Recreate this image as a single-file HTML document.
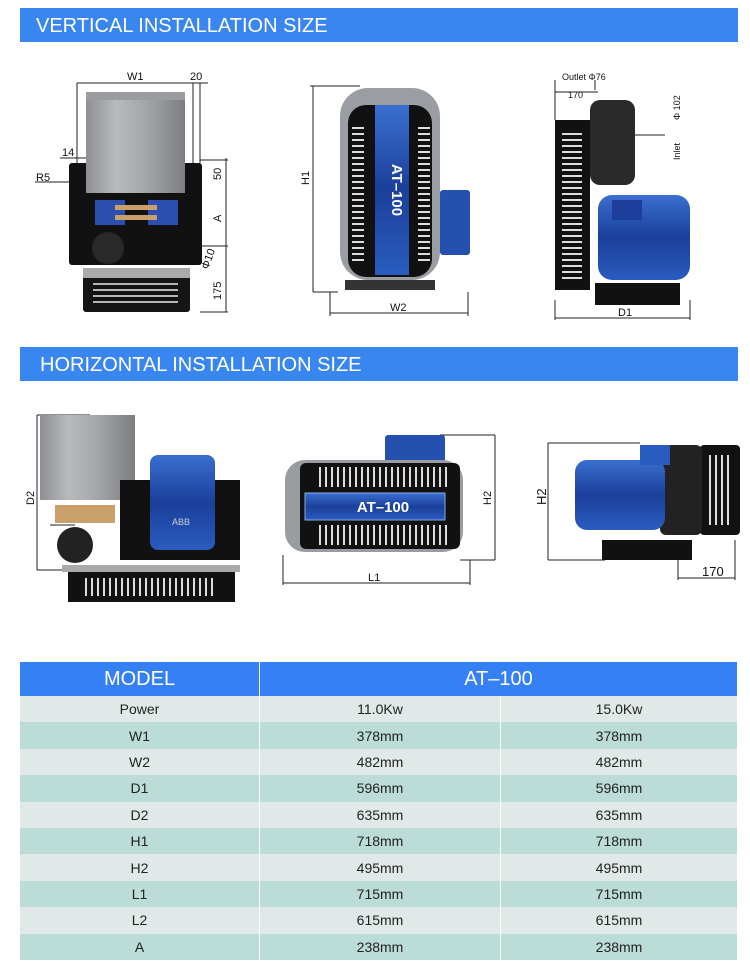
<!DOCTYPE html>
<html><head><meta charset="utf-8"><style>
body{margin:0;width:750px;height:974px;background:#fff;overflow:hidden;font-family:"Liberation Sans",sans-serif}
svg{position:absolute;left:0;top:0}
table{position:absolute;left:20px;top:662px;width:718px;border-collapse:collapse;font-family:"Liberation Sans",sans-serif}
td{text-align:center;font-size:14px;color:#222;height:26.4px;padding:0;border-right:1px solid #fff}
tr.h td{background:#3680f5;color:#fff;font-size:20px;height:34px}
tr.a td{background:#e1e8e8}
tr.b td{background:#bcdcd8}
</style></head><body>
<svg width="750" height="974" viewBox="0 0 750 974">
<defs>
<linearGradient id="cyl" x1="0" x2="1"><stop offset="0" stop-color="#8d8f93"/><stop offset=".3" stop-color="#b8babd"/><stop offset=".6" stop-color="#a4a6aa"/><stop offset="1" stop-color="#7c7e82"/></linearGradient>
<linearGradient id="blu" x1="0" x2="0" y1="0" y2="1"><stop offset="0" stop-color="#3a6fd0"/><stop offset=".5" stop-color="#1b3f9a"/><stop offset="1" stop-color="#2a5cc0"/></linearGradient>
<pattern id="vent" width="4" height="6" patternUnits="userSpaceOnUse"><rect width="4" height="6" fill="#111"/><rect x="0" y="1" width="4" height="2" fill="#ddd"/></pattern>
<pattern id="ventv" width="6" height="4" patternUnits="userSpaceOnUse"><rect width="6" height="4" fill="#111"/><rect x="1" y="0" width="2" height="4" fill="#ddd"/></pattern>
</defs>
<rect x="20" y="8" width="718" height="34" fill="#3a86f0"/>
<text x="36" y="32" fill="#fff" font-size="20">VERTICAL INSTALLATION SIZE</text>
<rect x="20" y="347" width="718" height="34" fill="#3a86f0"/>
<text x="40" y="371" fill="#fff" font-size="20">HORIZONTAL INSTALLATION SIZE</text>
<g stroke="#222" stroke-width="1" fill="none">
<!-- drawing 1 dims -->
<path d="M77 83H208M77 83V163M193 83V163M200 83V163M60 158H86M35 182H70M200 160H228M200 246H228M200 312H228M226 158V312"/>
<!-- drawing 2 -->
<path d="M310 86H360M313 86V292M313 292H338M330 292V316M468 292V316M330 313H468"/>
<!-- drawing 3 -->
<path d="M555 80V120M595 80V90M555 92H598M630 135H665M630 135V160M555 300V320M690 300V320M555 318H690"/>
<!-- drawing 4 -->
<path d="M37 415H90M37 415V570M37 570H70M50 525H75"/>
<!-- drawing 5 -->
<path d="M440 435H495M495 435V560M460 560H495M283 555V585M470 560V585M283 583H470"/>
<!-- drawing 6 -->
<path d="M548 443H640M548 443V560M548 560H605M678 560V580M735 540V580M678 578H735"/>
</g>
<g font-size="11" fill="#111">
<text x="127" y="80">W1</text><text x="190" y="80">20</text><text x="62" y="156">14</text><text x="36" y="181">R5</text>
<text x="221" y="180" transform="rotate(-90 221 180)">50</text><text x="221" y="222" transform="rotate(-90 221 222)">A</text>
<text x="221" y="300" transform="rotate(-90 221 300)">175</text><text x="208" y="270" transform="rotate(-70 208 270)">Φ10</text>
<text x="309" y="185" transform="rotate(-90 309 185)">H1</text><text x="390" y="311">W2</text>
<text x="562" y="80" font-size="9">Outlet  Φ76</text><text x="568" y="98" font-size="9">170</text>
<text x="680" y="160" font-size="9" transform="rotate(-90 680 160)">Inlet</text><text x="680" y="120" font-size="9" transform="rotate(-90 680 120)">Φ 102</text>
<text x="618" y="316">D1</text>
<text x="34" y="505" transform="rotate(-90 34 505)">D2</text><text x="55" y="523">63</text>
<text x="491" y="505" transform="rotate(-90 491 505)">H2</text><text x="368" y="581">L1</text>
<text x="546" y="505" font-size="13" transform="rotate(-90 546 505)">H2</text><text x="702" y="576" font-size="13">170</text>
</g>
<!-- drawing 1 -->
<rect x="69" y="163" width="133" height="102" rx="3" fill="#111"/>
<rect x="86" y="92" width="99" height="101" fill="url(#cyl)"/>
<rect x="86" y="92" width="99" height="8" fill="#9a9ca0"/>
<rect x="95" y="200" width="30" height="25" fill="#2b4fb0"/><rect x="148" y="200" width="30" height="25" fill="#2b4fb0"/>
<rect x="115" y="205" width="42" height="5" fill="#c9a06a"/><rect x="115" y="215" width="42" height="5" fill="#c9a06a"/>
<circle cx="108" cy="248" r="16" fill="#2a2a2a"/>
<rect x="83" y="268" width="107" height="44" rx="3" fill="#151515"/><rect x="83" y="268" width="107" height="10" fill="#aaa"/>
<rect x="93" y="283" width="85" height="22" fill="url(#vent)" opacity=".8"/>
<!-- drawing 2 -->
<rect x="340" y="88" width="100" height="192" rx="28" fill="#9a9ea2"/>
<rect x="348" y="105" width="84" height="172" rx="18" fill="#111"/>
<rect x="352" y="125" width="12" height="140" fill="url(#vent)"/><rect x="418" y="125" width="12" height="140" fill="url(#vent)"/>
<rect x="375" y="105" width="34" height="170" fill="url(#blu)"/>
<text x="392" y="190" fill="#fff" font-size="15" font-weight="bold" text-anchor="middle" transform="rotate(90 392 190)">AT–100</text>
<rect x="440" y="190" width="30" height="65" rx="3" fill="#2450b0"/>
<rect x="345" y="280" width="90" height="10" fill="#333"/>
<!-- drawing 3 -->
<rect x="555" y="120" width="35" height="170" fill="#111"/>
<rect x="562" y="130" width="20" height="150" fill="url(#vent)"/>
<rect x="590" y="100" width="45" height="85" rx="10" fill="#2a2a2a"/>
<rect x="598" y="195" width="92" height="85" rx="14" fill="url(#blu)"/>
<rect x="612" y="200" width="30" height="20" fill="#1b3f9a"/>
<rect x="595" y="283" width="85" height="22" fill="#111"/>
<!-- drawing 4 -->
<rect x="40" y="415" width="95" height="85" fill="url(#cyl)"/>
<rect x="55" y="505" width="60" height="18" fill="#c9a06a"/>
<rect x="120" y="480" width="120" height="80" fill="#111"/>
<rect x="150" y="455" width="65" height="95" rx="8" fill="url(#blu)"/>
<text x="172" y="525" fill="#ccc" font-size="9">ABB</text>
<circle cx="75" cy="545" r="18" fill="#222"/>
<rect x="62" y="565" width="178" height="7" fill="#aaa"/>
<rect x="68" y="572" width="167" height="30" fill="#111"/>
<rect x="85" y="578" width="130" height="18" fill="url(#ventv)"/>
<!-- drawing 5 -->
<rect x="385" y="435" width="60" height="28" rx="3" fill="#2450b0"/>
<rect x="285" y="460" width="178" height="92" rx="20" fill="#999da1"/>
<rect x="300" y="463" width="160" height="86" rx="6" fill="#111"/>
<rect x="315" y="467" width="135" height="20" fill="url(#ventv)"/><rect x="315" y="525" width="135" height="20" fill="url(#ventv)"/>
<rect x="305" y="493" width="140" height="27" fill="url(#blu)" stroke="#8aaae0"/>
<text x="383" y="512" fill="#fff" font-size="15" font-weight="bold" text-anchor="middle">AT–100</text>
<!-- drawing 6 -->
<rect x="700" y="445" width="40" height="90" rx="4" fill="#111"/>
<rect x="708" y="455" width="25" height="70" fill="url(#ventv)"/>
<rect x="660" y="445" width="42" height="90" rx="6" fill="#222"/>
<rect x="575" y="460" width="90" height="70" rx="12" fill="url(#blu)"/>
<rect x="640" y="445" width="30" height="20" fill="#2a5cc0"/>
<rect x="602" y="540" width="90" height="20" fill="#111"/>
</svg>
<table>
<tr class="h"><td style="width:239px">MODEL</td><td colspan="2">AT–100</td></tr>
<tr class="a"><td>Power</td><td style="width:240px">11.0Kw</td><td>15.0Kw</td></tr>
<tr class="b"><td>W1</td><td>378mm</td><td>378mm</td></tr>
<tr class="a"><td>W2</td><td>482mm</td><td>482mm</td></tr>
<tr class="b"><td>D1</td><td>596mm</td><td>596mm</td></tr>
<tr class="a"><td>D2</td><td>635mm</td><td>635mm</td></tr>
<tr class="b"><td>H1</td><td>718mm</td><td>718mm</td></tr>
<tr class="a"><td>H2</td><td>495mm</td><td>495mm</td></tr>
<tr class="b"><td>L1</td><td>715mm</td><td>715mm</td></tr>
<tr class="a"><td>L2</td><td>615mm</td><td>615mm</td></tr>
<tr class="b"><td>A</td><td>238mm</td><td>238mm</td></tr>
</table>
</body></html>
